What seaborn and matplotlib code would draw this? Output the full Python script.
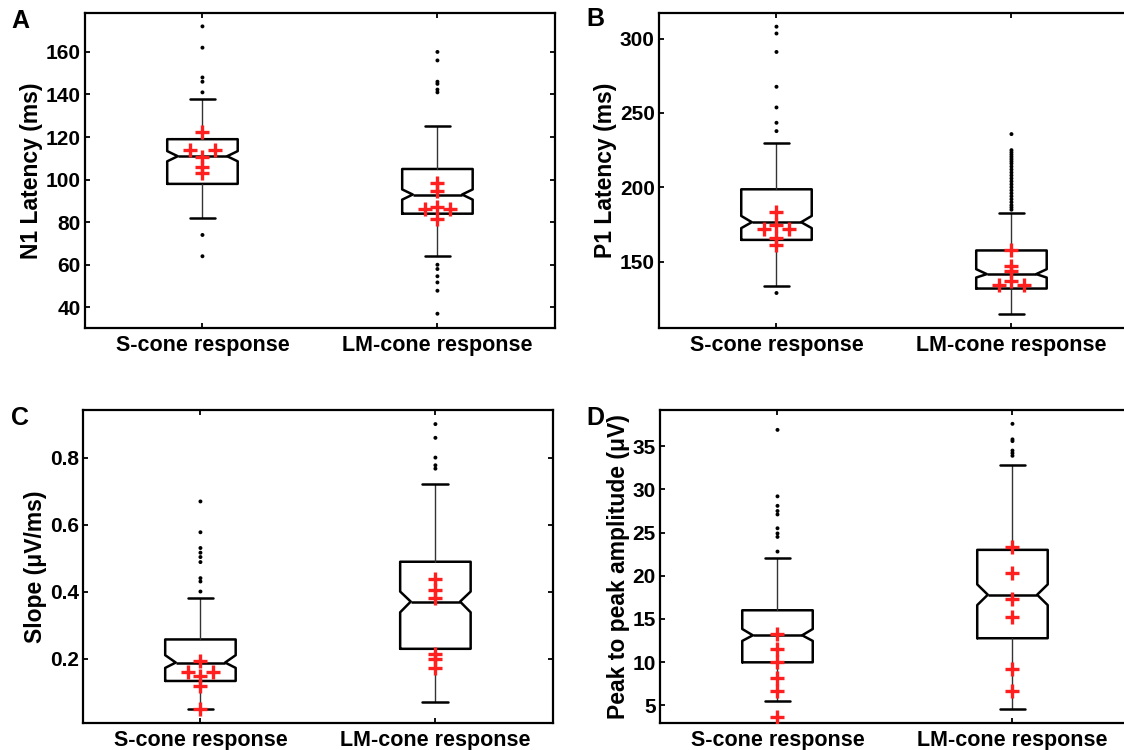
import matplotlib
matplotlib.use("Agg")
import matplotlib.pyplot as plt
import numpy as np
import pandas as pd
import seaborn as sns

# ================================================================
# DATA
# ================================================================
GROUPS = ["S-cone response", "LM-cone response"]

# A - N1 latency (ms)
a_whislo = [82, 64]
a_q1 = [98, 84]
a_med = [111, 93]
a_q3 = [119, 105]
a_whishi = [138, 125]
a_ci_lo = [108.6, 90.6]
a_ci_hi = [113.4, 95.4]
a_out_s = [172, 162, 148, 146, 141, 74, 64]
a_out_lm = [160, 156, 146, 145, 142.3, 141, 60, 58, 54.6, 51.7, 47.8, 37]
a_subj_s = [122.5, 114, 114, 110.5, 106, 103]
a_subj_lm = [98.5, 94.5, 86, 87, 86, 81.5]
a_side_s = [0, -1, 1, 0, 0, 0]
a_side_lm = [0, 0, -1, 0, 1, 0]

# B - P1 latency (ms)
b_whislo = [134, 115]
b_q1 = [164.7, 132]
b_med = [176.6, 141.7]
b_q3 = [198.7, 157.6]
b_whishi = [229.6, 183]
b_ci_lo = [172.6, 139.4]
b_ci_hi = [180.8, 145]
b_out_s = [308, 303.4, 291, 267.6, 253.7, 243.4, 237.8, 129]
b_out_lm = [235.8, 225, 223.5, 222, 220.5, 219, 217.5, 216, 214, 212, 210,
            208, 206, 204, 202, 200, 198, 196, 194, 192, 190, 188, 186.5, 185]
b_subj_s = [183.7, 172, 174.6, 172, 166, 161]
b_subj_lm = [157.6, 146.9, 143.5, 136.8, 134.1, 134.1]
b_side_s = [0, -1, 0, 1, 0, 0]
b_side_lm = [0, 0, 0, 0, -1, 1]

# C - slope (uV/ms)
c_whislo = [0.049, 0.069]
c_q1 = [0.133, 0.229]
c_med = [0.188, 0.370]
c_q3 = [0.257, 0.489]
c_whishi = [0.38, 0.72]
c_ci_lo = [0.172, 0.338]
c_ci_hi = [0.21, 0.40]
c_out_s = [0.669, 0.577, 0.53, 0.516, 0.503, 0.488, 0.44, 0.43, 0.40]
c_out_lm = [0.90, 0.859, 0.80, 0.777, 0.767]
c_subj_s = [0.192, 0.160, 0.147, 0.160, 0.118, 0.049]
c_subj_lm = [0.437, 0.405, 0.382, 0.215, 0.200, 0.172]
c_side_s = [0, -1, 0, 1, 0, 0]
c_side_lm = [0, 0, 0, 0, 0, 0]

# D - peak to peak amplitude (uV)
d_whislo = [5.5, 4.6]
d_q1 = [9.97, 12.76]
d_med = [13.1, 17.8]
d_q3 = [16.0, 23.0]
d_whishi = [22.0, 32.8]
d_ci_lo = [12.45, 16.6]
d_ci_hi = [13.83, 19.0]
d_out_s = [36.9, 29.2, 28.1, 27.5, 27.1, 25.5, 24.9, 24.5, 22.8]
d_out_lm = [37.6, 35.8, 35.6, 34.5, 34.2, 33.9]
d_subj_s = [13.3, 11.5, 10.0, 8.1, 6.65, 3.6]
d_subj_lm = [23.3, 20.3, 17.3, 15.2, 9.25, 6.65]
d_side_s = [0, 0, 0, 0, 0, 0]
d_side_lm = [0, 0, 0, 0, 0, 0]

# ================================================================
# STYLE
# ================================================================
sns.set_theme(style="ticks")
plt.rcParams["font.family"] = ["Liberation Sans", "DejaVu Sans"]
plt.rcParams.update({
    "font.size": 15,
    "font.weight": "bold",
    "text.color": "black",
    "axes.labelcolor": "black",
    "axes.labelweight": "bold",
    "axes.edgecolor": "black",
    "axes.linewidth": 1.6,
    "xtick.direction": "in",
    "ytick.direction": "in",
    "xtick.top": True,
    "ytick.right": True,
    "xtick.major.size": 3.5,
    "ytick.major.size": 3.5,
    "xtick.major.width": 1.3,
    "ytick.major.width": 1.3,
    "xtick.color": "black",
    "ytick.color": "black",
    "xtick.labelcolor": "black",
    "ytick.labelcolor": "black",
    "xtick.labelsize": 15.5,
    "ytick.labelsize": 15,
    "xtick.major.pad": 5,
    "ytick.major.pad": 3,
})

SIDE_STEP = 0.055
BOX_W = 0.3
NOTCH_WIDEN = 1.4  # notch reaches ~70% of box half-width at the median


def draw_panel(ax, whislo, q1, med, q3, whishi, ci_lo, ci_hi,
               out_s, out_lm, subj_s, subj_lm, side_s, side_lm,
               ylim, yticks, ylabel):
    stats = []
    for i in range(2):
        stats.append(dict(med=med[i], q1=q1[i], q3=q3[i], whislo=whislo[i],
                          whishi=whishi[i], cilo=ci_lo[i], cihi=ci_hi[i],
                          fliers=[]))
    parts = ax.bxp(stats, positions=[1, 2], widths=BOX_W, shownotches=True,
                   showfliers=False, capwidths=0.11,
                   boxprops=dict(color="black", linewidth=1.8),
                   whiskerprops=dict(color="#333333", linewidth=1.0),
                   capprops=dict(color="black", linewidth=1.8),
                   medianprops=dict(color="black", linewidth=1.8))

    # MATLAB-like deeper notches
    for pos, box, mline in zip([1, 2], parts["boxes"], parts["medians"]):
        xs = np.asarray(box.get_xdata(), dtype=float)
        inner = np.abs(xs - pos) < BOX_W / 2 - 1e-9
        xs[inner] = pos + (xs[inner] - pos) * NOTCH_WIDEN
        box.set_xdata(xs)
        mx = np.asarray(mline.get_xdata(), dtype=float)
        mline.set_xdata(pos + (mx - pos) * NOTCH_WIDEN)

    outs = pd.DataFrame({
        "x": [1] * len(out_s) + [2] * len(out_lm),
        "y": out_s + out_lm,
    })
    sns.scatterplot(data=outs, x="x", y="y", ax=ax, color="black", s=8,
                    marker="o", edgecolor="none", legend=False, zorder=3)

    subj = pd.DataFrame({
        "x": [1 + SIDE_STEP * s for s in side_s] + [2 + SIDE_STEP * s for s in side_lm],
        "y": subj_s + subj_lm,
    })
    sns.scatterplot(data=subj, x="x", y="y", ax=ax, color="#ff1f1f", s=110,
                    marker="+", linewidth=2.4, legend=False, zorder=4)

    ax.set_xlim(0.5, 2.5)
    ax.set_ylim(*ylim)
    ax.set_xticks([1, 2])
    ax.set_xticklabels(GROUPS, fontweight="bold")
    ax.set_yticks(yticks)
    for lab in ax.get_yticklabels():
        lab.set_fontweight("bold")
    ax.set_xlabel("")
    ax.set_ylabel(ylabel, fontweight="bold", fontsize=16.5, labelpad=2,
                  color="black")
    for sp in ax.spines.values():
        sp.set_visible(True)
        sp.set_color("black")


fig = plt.figure(figsize=(11.24, 7.5), dpi=100)
fig.patch.set_facecolor("white")

ax_a = fig.add_axes([0.0756, 0.5627, 0.4181, 0.42])
ax_b = fig.add_axes([0.5863, 0.5627, 0.4181, 0.42])
ax_c = fig.add_axes([0.0738, 0.036, 0.4181, 0.4173])
ax_d = fig.add_axes([0.5872, 0.036, 0.4181, 0.4173])

draw_panel(ax_a, a_whislo, a_q1, a_med, a_q3, a_whishi, a_ci_lo, a_ci_hi,
           a_out_s, a_out_lm, a_subj_s, a_subj_lm, a_side_s, a_side_lm,
           (30.3, 178.3), [40, 60, 80, 100, 120, 140, 160], "N1 Latency (ms)")
draw_panel(ax_b, b_whislo, b_q1, b_med, b_q3, b_whishi, b_ci_lo, b_ci_hi,
           b_out_s, b_out_lm, b_subj_s, b_subj_lm, b_side_s, b_side_lm,
           (105.5, 317.2), [150, 200, 250, 300], "P1 Latency (ms)")
draw_panel(ax_c, c_whislo, c_q1, c_med, c_q3, c_whishi, c_ci_lo, c_ci_hi,
           c_out_s, c_out_lm, c_subj_s, c_subj_lm, c_side_s, c_side_lm,
           (0.0075, 0.942), [0.2, 0.4, 0.6, 0.8], "Slope (μV/ms)")
draw_panel(ax_d, d_whislo, d_q1, d_med, d_q3, d_whishi, d_ci_lo, d_ci_hi,
           d_out_s, d_out_lm, d_subj_s, d_subj_lm, d_side_s, d_side_lm,
           (2.94, 39.2), [5, 10, 15, 20, 25, 30, 35], "Peak to peak amplitude (μV)")
ax_c.set_yticklabels(["0.2", "0.4", "0.6", "0.8"], fontweight="bold")

for letter, x, y in [("A", 0.010, 0.972), ("B", 0.522, 0.975),
                     ("C", 0.010, 0.443), ("D", 0.522, 0.443)]:
    fig.text(x, y, letter, fontsize=18, fontweight="bold", ha="left",
             va="center", color="black")

fig.savefig("out.png", dpi=100, facecolor="white")
